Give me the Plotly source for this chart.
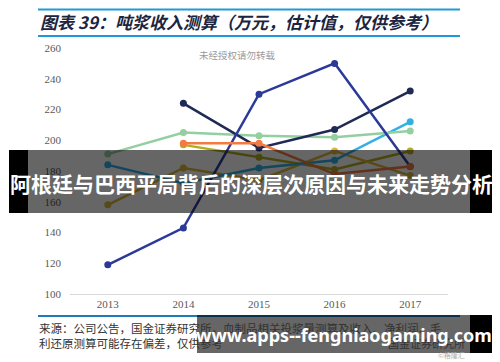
import plotly.graph_objects as go

years = ["2013", "2014", "2015", "2016", "2017"]
blue = [119, 143, 230, 250, 183]
navy = [None, 224, 195, 207, 232]
green = [191, 205, 203, 202, 206]
cyan = [184, 172, 182, 187, 212]
orange = [None, 198, 198, 178, 183]
yellow = [158, 182, 174, 193, 177]
olive = [None, 197, 189, 181, 193]
y_ticks = [100, 120, 140, 160, 180, 200, 220, 240, 260]

series = [
    (olive, "#b3ac1f"),
    (yellow, "#dcb63c"),
    (cyan, "#33b0e3"),
    (green, "#93cfa0"),
    (navy, "#1f2a55"),
    (blue, "#2b3a98"),
    (orange, "#f47a42"),
]

# page body has an 8px margin; figure is laid out in reference pixels minus 8
OFF = 8
W, H = 500 - OFF, 362 - OFF
L, R, T, B = 70, 448, 48, 294  # plot area in reference pixels


def px(x):
    return (x - L) / (R - L)


def py(y):
    return (B - y) / (B - T)


fig = go.Figure()
for vals, col in series:
    fig.add_trace(go.Scatter(
        x=years, y=vals, mode="lines+markers",
        line=dict(color=col, width=2.5),
        marker=dict(color=col, size=7),
        connectgaps=False, showlegend=False, hoverinfo="skip",
    ))

fig.update_layout(
    width=W, height=H,
    margin=dict(l=L - OFF, r=500 - R, t=T - OFF, b=362 - B),
    paper_bgcolor="white", plot_bgcolor="white",
    xaxis=dict(type="category", range=[-0.5, 4.5], showgrid=False, zeroline=False,
               showline=True, linecolor="#d9d9d9", linewidth=1, ticks="",
               tickfont=dict(family="Liberation Serif", size=11, color="#595959")),
    yaxis=dict(range=[100, 260], tickvals=y_ticks, showgrid=False, zeroline=False,
               showline=False, ticks="", ticklabelstandoff=8,
               tickfont=dict(family="Liberation Serif", size=11, color="#595959")),
)

shapes = []
for yy in (9.5, 36):
    shapes.append(dict(type="line", xref="paper", yref="paper", x0=px(38), x1=px(460),
                       y0=py(yy), y1=py(yy), line=dict(color="#1e9ad6", width=2), layer="above"))
shapes.append(dict(type="line", xref="paper", yref="paper", x0=px(38), x1=px(460),
                   y0=py(316), y1=py(316), line=dict(color="#1f7ab8", width=2), layer="above"))
shapes.append(dict(type="rect", xref="paper", yref="paper", x0=px(28), x1=px(470),
                   y0=py(213), y1=py(150), fillcolor="rgba(0,0,0,0.6)", line=dict(width=0), layer="above"))
for a, b in ((9, 28), (470, 492)):
    shapes.append(dict(type="rect", xref="paper", yref="paper", x0=px(a), x1=px(b),
                       y0=py(213), y1=py(150), fillcolor="black", line=dict(width=0), layer="above"))
shapes.append(dict(type="rect", xref="paper", yref="paper", x0=px(197), x1=px(470),
                   y0=py(353), y1=py(315), fillcolor="rgba(0,0,0,0.6)", line=dict(width=0), layer="above"))
shapes.append(dict(type="rect", xref="paper", yref="paper", x0=px(470), x1=px(492),
                   y0=py(353), y1=py(315), fillcolor="black", line=dict(width=0), layer="above"))

ann = [
    dict(text="<b>图表 39：吨浆收入测算（万元，估计值，仅供参考）</b>", x=px(38), y=py(22), xanchor="left",
         yanchor="middle", font=dict(family="Noto Sans CJK SC", size=17, color="#1b2540", style="italic")),
    dict(text="未经授权请勿转载", x=px(237), y=py(55), xanchor="center", yanchor="middle",
         font=dict(family="Noto Sans CJK SC", size=9.5, color="#9a9a9a")),
    dict(text="来源：公司公告，国金证券研究所，血制品相关投浆量测算及收入、净利润、毛", x=px(37), y=py(328),
         xanchor="left", yanchor="middle",
         font=dict(family="Noto Sans CJK SC", size=11.5, color="#333333")),
    dict(text="利还原测算可能存在偏差，仅供参考", x=px(37), y=py(343),
         xanchor="left", yanchor="middle",
         font=dict(family="Noto Sans CJK SC", size=11.5, color="#333333")),
    dict(text="国金证券研究所", x=px(467), y=py(343), xanchor="right", yanchor="middle",
         font=dict(family="Noto Sans CJK SC", size=11, color="#333333")),
    dict(text="©格隆汇", x=px(467), y=py(355), xanchor="right", yanchor="middle",
         font=dict(family="Noto Sans CJK SC", size=7, color="#b0b0b0")),
    dict(text="<b>阿根廷与巴西平局背后的深层次原因与未来走势分析</b>", x=px(251), y=py(183),
         xanchor="center", yanchor="middle",
         font=dict(family="Noto Sans CJK SC", size=21, color="white")),
    dict(text="<b>www.apps--fengniaogaming.com</b>", x=px(344), y=py(335),
         xanchor="center", yanchor="middle",
         font=dict(family="Noto Sans", size=18, color="white")),
]
for a in ann:
    a.update(xref="paper", yref="paper", showarrow=False)

fig.update_layout(shapes=shapes, annotations=ann)
fig.write_html("out.html")
